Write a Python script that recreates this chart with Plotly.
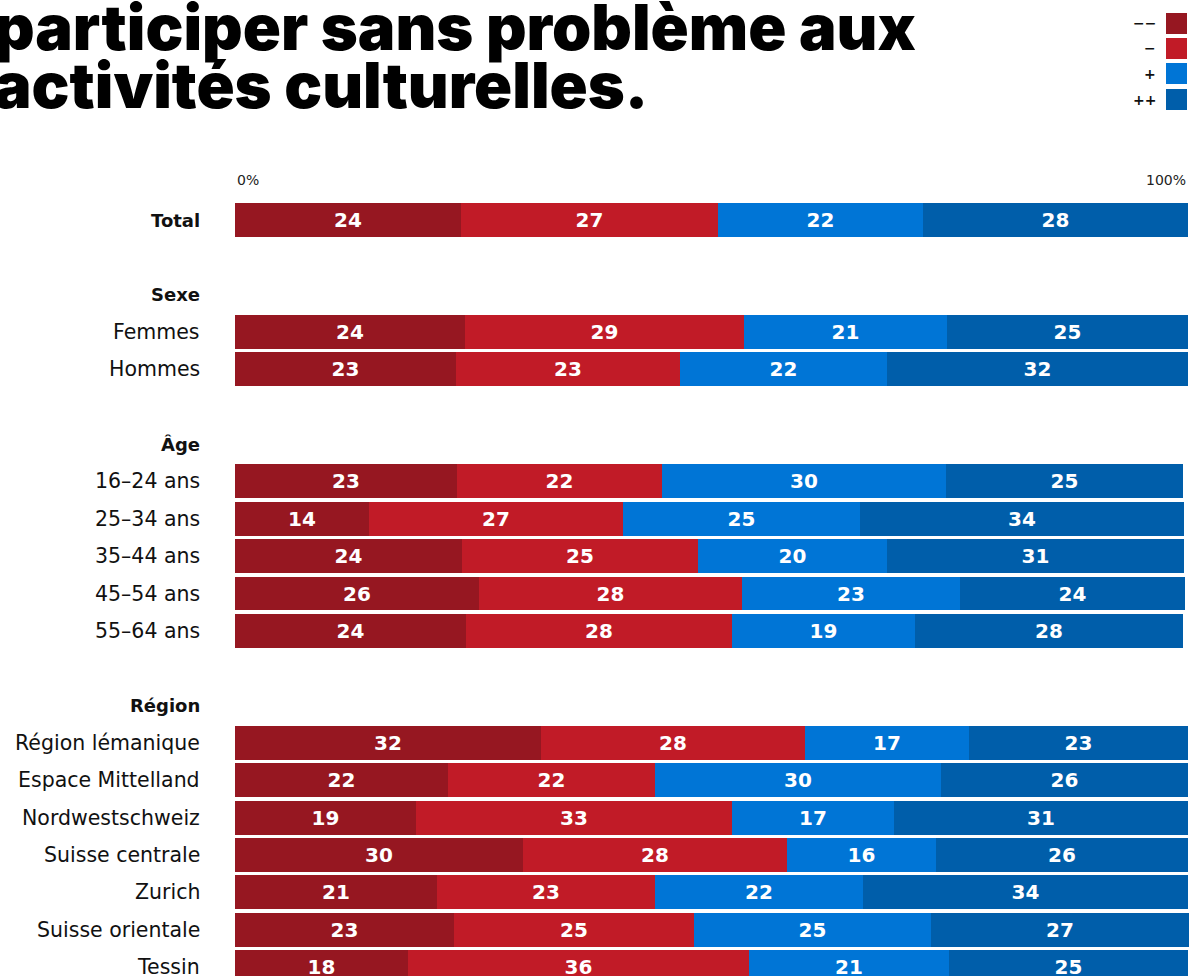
import plotly.graph_objects as go

# ---------------- data ----------------
title_lines = ["participer sans problème aux", "activités culturelles."]

groups = ["", "Sexe", "Âge", "Région"]
categories = ["Total", "Femmes", "Hommes",
              "16–24 ans", "25–34 ans", "35–44 ans", "45–54 ans", "55–64 ans",
              "Région lémanique", "Espace Mittelland", "Nordwestschweiz",
              "Suisse centrale", "Zurich", "Suisse orientale", "Tessin"]
category_group = [0, 1, 1, 2, 2, 2, 2, 2, 3, 3, 3, 3, 3, 3, 3]

series_names = ["−−", "−", "+", "++"]
# bar lengths (share in %)
very_negative = [23.8, 24.2, 23.2, 23.3, 14.1, 23.9, 25.7, 24.3, 32.2, 22.4, 19.0, 30.3, 21.3, 23.0, 18.2]
negative      = [26.9, 29.3, 23.5, 21.6, 26.7, 24.7, 27.6, 27.9, 27.7, 21.7, 33.2, 27.7, 22.8, 25.2, 35.8]
positive      = [21.5, 21.3, 21.8, 29.8, 24.8, 19.9, 22.8, 19.2, 17.2, 30.0, 17.0, 15.6, 21.8, 24.9, 21.0]
very_positive = [27.8, 25.2, 31.6, 24.8, 34.0, 31.1, 23.6, 28.1, 22.9, 26.0, 30.8, 26.4, 34.2, 27.1, 25.1]
# printed (rounded) labels
very_negative_lbl = [24, 24, 23, 23, 14, 24, 26, 24, 32, 22, 19, 30, 21, 23, 18]
negative_lbl      = [27, 29, 23, 22, 27, 25, 28, 28, 28, 22, 33, 28, 23, 25, 36]
positive_lbl      = [22, 21, 22, 30, 25, 20, 23, 19, 17, 30, 17, 16, 22, 25, 21]
very_positive_lbl = [28, 25, 32, 25, 34, 31, 24, 28, 23, 26, 31, 26, 34, 27, 25]

tick_labels = ["0%", "100%"]

colors = ["#961721", "#C11B27", "#0075D6", "#005EAA"]

# ---------------- layout helpers ----------------
W, H = 1196, 976
ROW = 37.35          # px per row
Y0 = 220             # px centre of first row
X0, X100 = 234.5, 1187.5
pxu = (X100 - X0) / 100.0

# row positions (blank row + header row before each new group)
pos = []
header_pos = {}
cur = -1
prev_g = None
for g in category_group:
    if prev_g is None:
        cur = 0
    elif g != prev_g:
        cur += 2
        header_pos[g] = cur
        cur += 1
    else:
        cur += 1
    pos.append(cur)
    prev_g = g

fig = go.Figure()
all_vals = [very_negative, negative, positive, very_positive]
all_lbls = [very_negative_lbl, negative_lbl, positive_lbl, very_positive_lbl]
for name, vals, lbls, col in zip(series_names, all_vals, all_lbls, colors):
    fig.add_trace(go.Bar(
        y=pos, x=vals, orientation="h", name=name,
        marker=dict(color=col, line=dict(width=0)),
        width=0.91,
        text=[str(v) for v in lbls],
        textposition="inside", insidetextanchor="middle", textangle=0,
        constraintext="none",
        textfont=dict(family="DejaVu Sans", size=20, color="white", weight=700),
        hoverinfo="skip", showlegend=False,
    ))

def py(px):
    return 1 - px / H

def px_x(px):
    return px / W

ann = []
LABEL_R = 202
for c, p in zip(categories, pos):
    bold = c == "Total"
    ann.append(dict(x=px_x(LABEL_R), xref="paper", y=p, yref="y", text=c,
                    xanchor="right", yanchor="middle", showarrow=False,
                    font=dict(family="DejaVu Sans", size=18 if bold else 20.5,
                              color="#111", weight=700 if bold else 400)))
for g, p in header_pos.items():
    ann.append(dict(x=px_x(LABEL_R), xref="paper", y=p, yref="y", text=groups[g],
                    xanchor="right", yanchor="middle", showarrow=False,
                    font=dict(family="DejaVu Sans", size=18, color="#111", weight=700)))

# axis tick labels 0% / 100%
ann.append(dict(x=0, xref="x", y=py(180), yref="paper", text=tick_labels[0],
                xanchor="left", yanchor="middle", showarrow=False,
                font=dict(family="DejaVu Sans", size=14, color="#222")))
ann.append(dict(x=100, xref="x", y=py(180), yref="paper", text=tick_labels[1],
                xanchor="right", yanchor="middle", showarrow=False,
                font=dict(family="DejaVu Sans", size=14, color="#222")))

# title (cropped at the top-left like the reference)
for line, cy in zip(title_lines, [27, 85]):
    ann.append(dict(x=px_x(-8), xref="paper", y=py(cy), yref="paper", text=line,
                    xanchor="left", yanchor="middle", showarrow=False,
                    font=dict(family="Inter", size=63, color="#000", weight=900)))

# legend
shapes = []
leg_tops = [13, 38, 63, 89]
for name, col, t in zip(series_names, colors, leg_tops):
    shapes.append(dict(type="rect", xref="paper", yref="paper",
                       x0=px_x(1166), x1=px_x(1187), y0=py(t + 21), y1=py(t),
                       fillcolor=col, line=dict(width=0)))
    ann.append(dict(x=px_x(1158), xref="paper", y=py(t + 10.5), yref="paper",
                    text=name, xanchor="right", yanchor="middle", showarrow=False,
                    font=dict(family="DejaVu Sans", size=14, color="#111", weight=700)))

fig.update_layout(
    width=W, height=H,
    margin=dict(l=0, r=0, t=0, b=0),
    paper_bgcolor="white", plot_bgcolor="white",
    barmode="stack", bargap=0,
    xaxis=dict(range=[-X0 / pxu, (W - X0) / pxu], visible=False, fixedrange=True),
    yaxis=dict(range=[(H - Y0) / ROW, -Y0 / ROW], visible=False, fixedrange=True),
    annotations=ann, shapes=shapes,
    showlegend=False,
)

fig.write_html("out.html", config={"displayModeBar": False},
               post_script="document.body.style.margin='0';document.body.style.overflow='hidden';")
